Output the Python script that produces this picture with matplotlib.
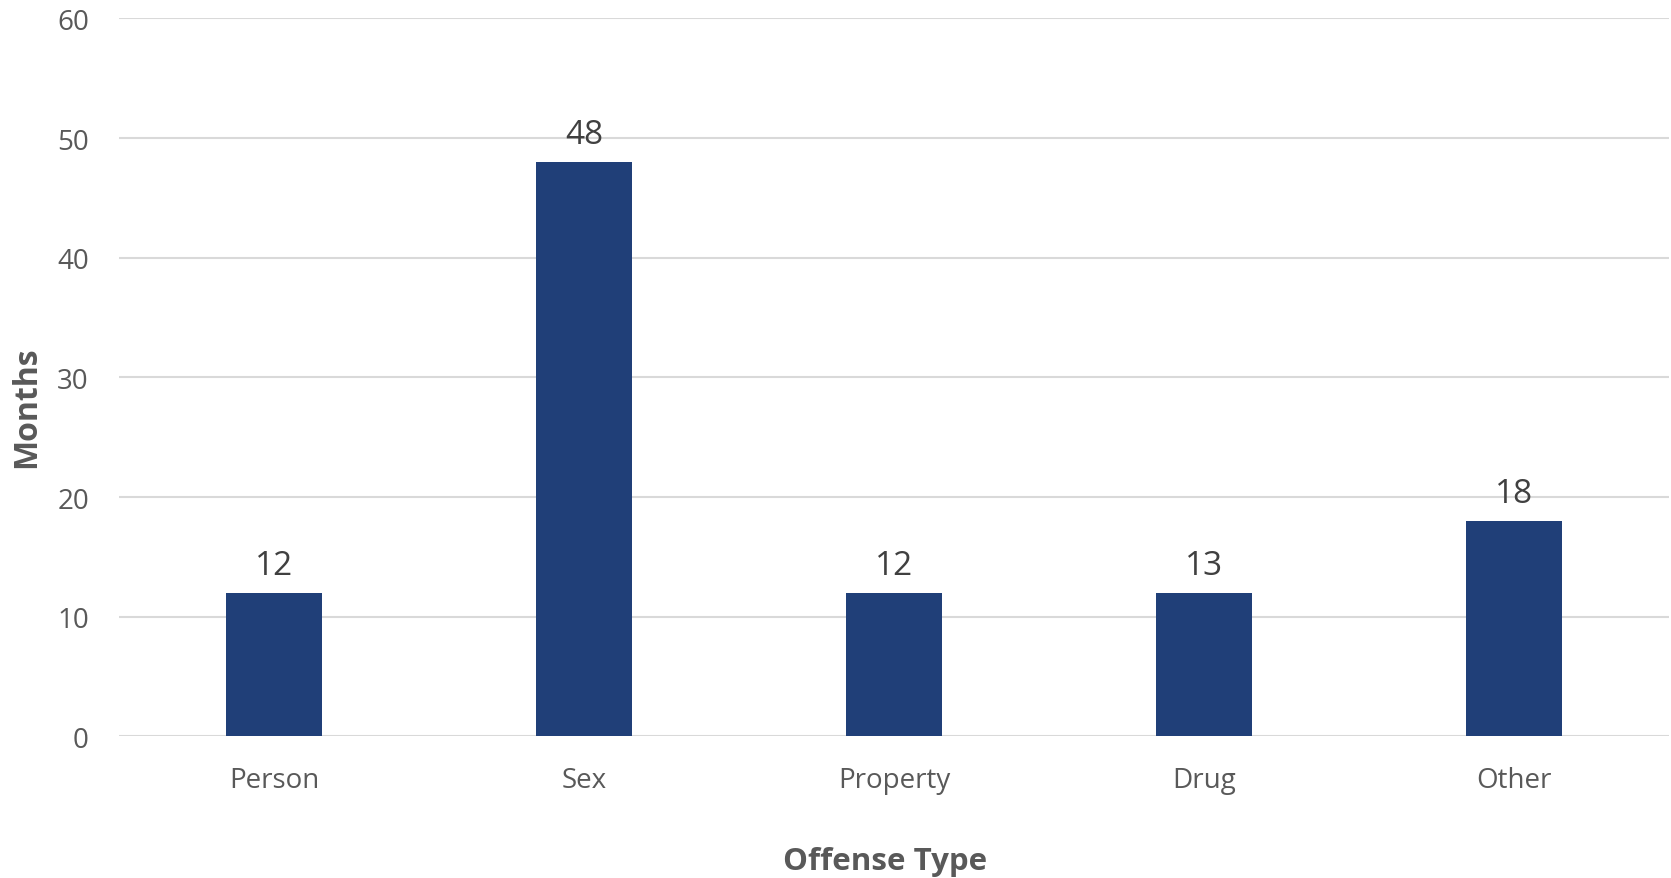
import matplotlib
matplotlib.use("Agg")
import matplotlib.pyplot as plt

categories = ["Person", "Sex", "Property", "Drug", "Other"]
values = [12, 48, 12, 12, 18]
value_labels = ["12", "48", "12", "13", "18"]
yticks = [0, 10, 20, 30, 40, 50, 60]

plt.rcParams['font.family'] = ['Open Sans', 'DejaVu Sans']

fig = plt.figure(figsize=(16.71, 8.79), dpi=100)
ax = fig.add_axes([0.0715, 0.161, 0.9273, 0.817])

x = list(range(len(categories)))
bars = ax.bar(x, values, width=0.31, color="#203F78", zorder=3)
for xi, v, lab in zip(x, values, value_labels):
    ax.annotate(lab, (xi, v), xytext=(0, 8), textcoords="offset points",
                ha="center", va="bottom", fontsize=24, color="#404040")

ax.set_xlim(-0.5, len(categories) - 0.5)
ax.set_ylim(0, 60)
ax.set_yticks(yticks)
ax.set_xticks(x)
ax.set_xticklabels(categories)
ax.grid(axis="y", color="#d9d9d9", linewidth=1.5, zorder=0)
ax.set_axisbelow(True)
for s in ax.spines.values():
    s.set_visible(False)
ax.tick_params(axis="both", length=0, labelsize=20, labelcolor="#595959")
ax.tick_params(axis="y", pad=22)
ax.tick_params(axis="x", pad=21)
ax.set_ylabel("Months", fontsize=23, fontweight="bold", color="#595959")
ax.set_xlabel("Offense Type", fontsize=22.5, fontweight="bold", color="#595959")
ax.xaxis.set_label_coords(0.494, -0.174)
ax.yaxis.set_label_coords(-0.06, 0.46)
ax.yaxis.label.set_verticalalignment("center")
ax.xaxis.label.set_verticalalignment("center")

fig.savefig("out.png", dpi=100, facecolor="white")
